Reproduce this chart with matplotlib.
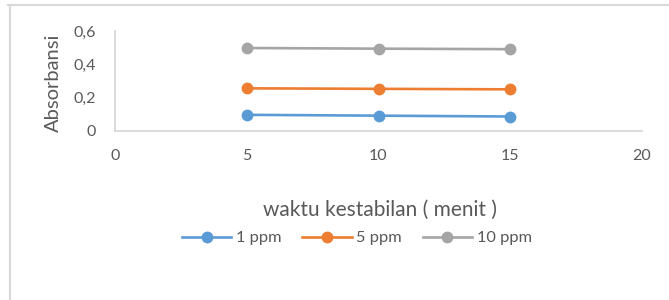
import matplotlib
matplotlib.use("Agg")
from matplotlib import pyplot as plt
from matplotlib.lines import Line2D

waktu = [5, 10, 15]
ppm_1 = [0.097, 0.092, 0.087]
ppm_5 = [0.256, 0.253, 0.250]
ppm_10 = [0.498, 0.494, 0.491]
seri = [("1 ppm", ppm_1, "#5b9bd5"), ("5 ppm", ppm_5, "#ed7d31"), ("10 ppm", ppm_10, "#a5a5a5")]

plt.rcParams['font.family'] = ['Lato', 'DejaVu Sans']
teks = "#595959"

fig = plt.figure(figsize=(6.69, 3.0), dpi=100)
ax = fig.add_axes([115/669, 1-131/300, (642-115)/669, 100/300])

for nama, nilai, warna in seri:
    ax.plot(waktu, nilai, color=warna, lw=1.9, marker="o", ms=7.5, label=nama)

ax.set_xlim(0, 20)
ax.set_ylim(0, 0.6)
ax.set_xticks([0, 5, 10, 15, 20])
ax.set_yticks([0, 0.2, 0.4, 0.6])
ax.set_yticklabels(["0", "0,2", "0,4", "0,6"])
ax.tick_params(length=0, labelsize=11.5, colors=teks)
ax.tick_params(axis="x", pad=13)
ax.tick_params(axis="y", pad=14)
for s in ["top", "right"]:
    ax.spines[s].set_visible(False)
for s in ["left", "bottom"]:
    ax.spines[s].set_color("#d9d9d9")
    ax.spines[s].set_linewidth(1.3)

fig.text(53/669, 1-83/300, "Absorbansi", rotation=90, ha="center", va="center", fontsize=14.5, color=teks)
fig.text(380/669, 1-210/300, "waktu kestabilan ( menit )", ha="center", va="center", fontsize=15, color=teks)
fig.legend(loc="center", bbox_to_anchor=(357/669, 1-238/300), ncol=3, frameon=False,
           fontsize=11.8, labelcolor=teks, handlelength=3.0, columnspacing=1.25, handletextpad=0.3)

# bingkai grafik
fig.add_artist(Line2D([8/669, 1], [1-5/300, 1-5/300], color="#d9d9d9", lw=1.5))
fig.add_artist(Line2D([10/669, 10/669], [0, 1-5/300], color="#d9d9d9", lw=1.5))

fig.savefig("out.png", dpi=100)
